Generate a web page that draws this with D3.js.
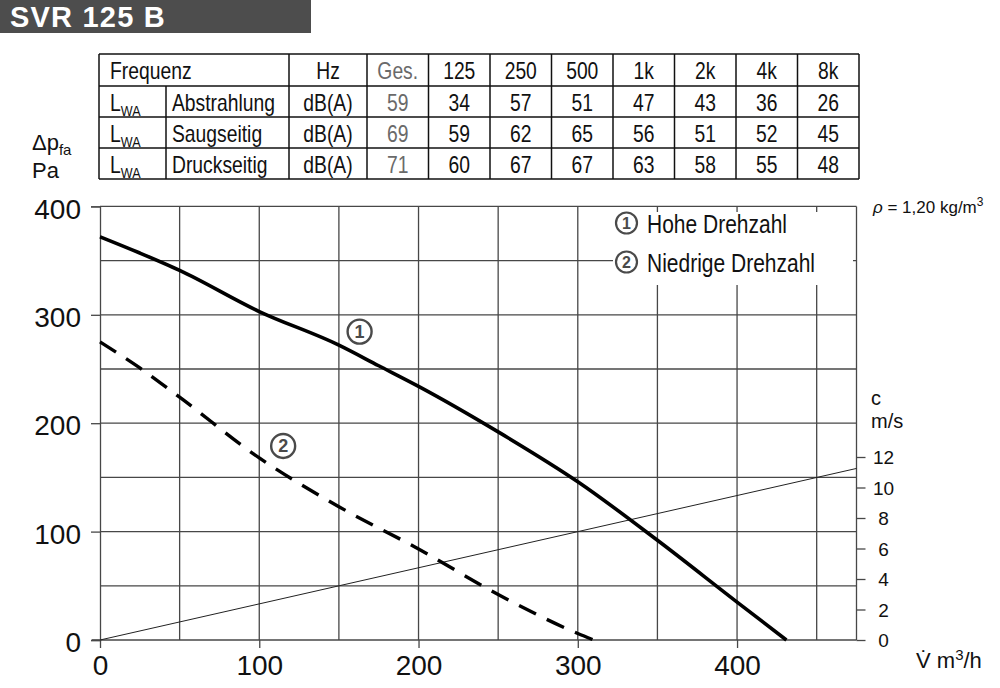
<!DOCTYPE html>
<html><head><meta charset="utf-8">
<script src="https://cdn.jsdelivr.net/npm/d3@7/dist/d3.min.js"></script>
<style>
html,body{margin:0;padding:0;background:#fff;}
svg{display:block;}
.sans{font-family:"Liberation Sans",Arial,Helvetica,sans-serif;}
</style>
</head><body>
<svg id="chart" width="1000" height="688"></svg>
<script>
// ---------- data ----------
const titleText = "SVR 125 B";
const freqLabels = ["Ges.", "125", "250", "500", "1k", "2k", "4k", "8k"];
const rowNames = ["Abstrahlung", "Saugseitig", "Druckseitig"];
const abstrahlung = [59, 34, 57, 51, 47, 43, 36, 26];
const saugseitig = [69, 59, 62, 65, 56, 51, 52, 45];
const druckseitig = [71, 60, 67, 67, 63, 58, 55, 48];

const hoheQ = [0, 25, 50, 100, 150, 175, 200, 250, 300, 350, 400, 431];
const hoheP = [372, 357, 341, 303, 272, 253, 234, 192, 146, 92, 35, 0];
const niedrigQ = [0, 25, 50, 100, 150, 200, 250, 300, 310];
const niedrigP = [275, 251, 224, 168, 123, 84, 42, 6, 0];
const velocityQ = [0, 475];
const velocityC = [0, 11.25];

const xTicks = [0, 100, 200, 300, 400];
const yTicks = [0, 100, 200, 300, 400];
const cTicks = [0, 2, 4, 6, 8, 10, 12];
const legendLabels = ["Hohe Drehzahl", "Niedrige Drehzahl"];

// ---------- setup ----------
const svg = d3.select("#chart");
const x = d3.scaleLinear().domain([0, 475]).range([100, 856.5]);
const y = d3.scaleLinear().domain([0, 400]).range([640, 206.4]);
const yc = d3.scaleLinear().domain([0, 12]).range([640, 457]);
const gridColor = "#474747";
const NARROW = 0.84;

// condensed text helper (no narrow font installed)
function ntext(parent, tx, ty, size, anchor, fill) {
  return parent.append("g").attr("transform", `translate(${tx},${ty}) scale(${NARROW},1)`)
    .append("text").attr("class", "sans").attr("font-size", size)
    .attr("text-anchor", anchor || "start").attr("fill", fill || "#111");
}

// Title bar
svg.append("rect").attr("x", 0).attr("y", 0).attr("width", 311).attr("height", 33).attr("fill", "#4d4d4d");
svg.append("text").attr("class", "sans").attr("x", 10).attr("y", 27)
  .attr("font-size", 29).attr("font-weight", "bold").attr("fill", "#fff")
  .attr("letter-spacing", 1.2).text(titleText);

// ---------- table ----------
const tbl = svg.append("g");
const tX0 = 99, tX1 = 859;
const rowY = [54, 86, 117, 148, 179];
const colX = [367, 428.5, 490, 551.5, 613, 674.5, 736, 797.5, 859];
const lineW = 1.5;
rowY.forEach(ry => tbl.append("line").attr("x1", tX0).attr("x2", tX1).attr("y1", ry).attr("y2", ry)
  .attr("stroke", "#111").attr("stroke-width", lineW));
[tX0, 289, ...colX].forEach(cx => tbl.append("line").attr("x1", cx).attr("x2", cx)
  .attr("y1", rowY[0]).attr("y2", rowY[4]).attr("stroke", "#111").attr("stroke-width", lineW));
tbl.append("line").attr("x1", 166).attr("x2", 166).attr("y1", rowY[1]).attr("y2", rowY[4])
  .attr("stroke", "#111").attr("stroke-width", lineW);

const fs = 23;
const baseOff = 25;
ntext(tbl, 110, rowY[0] + baseOff, fs).text("Frequenz");
ntext(tbl, 328, rowY[0] + baseOff, fs, "middle").text("Hz");
freqLabels.forEach((f, i) => {
  ntext(tbl, (colX[i] + colX[i + 1]) / 2, rowY[0] + baseOff, fs, "middle", i === 0 ? "#6a6a6a" : "#111").text(f);
});
const rowVals = [abstrahlung, saugseitig, druckseitig];
rowNames.forEach((name, r) => {
  const by = rowY[r + 1] + baseOff;
  const t = ntext(tbl, 110, by, fs);
  t.append("tspan").text("L");
  t.append("tspan").attr("font-size", 15).attr("dy", 5).text("WA");
  ntext(tbl, 172, by, fs).text(name);
  ntext(tbl, 328, by, fs, "middle").text("dB(A)");
  rowVals[r].forEach((v, i) => {
    ntext(tbl, (colX[i] + colX[i + 1]) / 2, by, fs, "middle", i === 0 ? "#6a6a6a" : "#111").text(v);
  });
});

// ---------- grid ----------
const grid = svg.append("g");
d3.range(50, 476, 50).forEach(q => grid.append("line").attr("x1", x(q)).attr("x2", x(q))
  .attr("y1", y(0)).attr("y2", y(400)).attr("stroke", gridColor).attr("stroke-width", 1.3));
d3.range(50, 401, 50).forEach(p => grid.append("line").attr("x1", x(0)).attr("x2", x(475))
  .attr("y1", y(p)).attr("y2", y(p)).attr("stroke", gridColor).attr("stroke-width", 1.3));
grid.append("line").attr("x1", x(475)).attr("x2", x(475)).attr("y1", y(0)).attr("y2", y(400))
  .attr("stroke", gridColor).attr("stroke-width", 1.3);

// left axis
const yAxis = d3.axisLeft(y).tickValues(yTicks).tickSize(9).tickPadding(10).tickFormat(d3.format("d"));
const gy = svg.append("g").attr("transform", `translate(${x(0)},0)`).call(yAxis);
gy.select(".domain").attr("stroke", gridColor).attr("stroke-width", 1.3);
gy.selectAll(".tick line").attr("stroke", gridColor).attr("stroke-width", 1.3);
gy.selectAll(".tick text").attr("class", "sans").attr("font-size", 28).attr("fill", "#111").attr("dy", "0.42em");

// bottom axis
const xAxis = d3.axisBottom(x).tickValues(xTicks).tickSize(8).tickPadding(10).tickFormat(d3.format("d"));
const gx = svg.append("g").attr("transform", `translate(0,${y(0)})`).call(xAxis);
gx.select(".domain").remove();
gx.append("line").attr("x1", 92).attr("x2", x(475)).attr("y1", 0).attr("y2", 0).attr("stroke", gridColor).attr("stroke-width", 1.3);
gx.selectAll(".tick line").attr("stroke", gridColor).attr("stroke-width", 1.3);
gx.selectAll(".tick text").attr("class", "sans").attr("font-size", 28).attr("fill", "#111").attr("dy", "0.6em");

// right velocity axis
const cAxis = d3.axisRight(yc).tickValues(cTicks).tickSize(9).tickPadding(7).tickFormat(d3.format("d"));
const gc = svg.append("g").attr("transform", `translate(${x(475)},0)`).call(cAxis);
gc.select(".domain").remove();
gc.selectAll(".tick line").attr("stroke", gridColor).attr("stroke-width", 1.3);
gc.selectAll(".tick text").attr("class", "sans").attr("font-size", 19).attr("fill", "#111")
  .attr("text-anchor", "middle").attr("x", 27).attr("dy", "0.36em");

// ---------- lines ----------
const velLine = d3.line().x((d, i) => x(velocityQ[i])).y(d => yc(d));
svg.append("path").attr("d", velLine(velocityC)).attr("fill", "none").attr("stroke", "#222").attr("stroke-width", 1);

const pLine = qs => d3.line().x((d, i) => x(qs[i])).y(d => y(d)).curve(d3.curveMonotoneX);
svg.append("path").attr("d", pLine(hoheQ)(hoheP)).attr("fill", "none").attr("stroke", "#000").attr("stroke-width", 3.6);
svg.append("path").attr("d", pLine(niedrigQ)(niedrigP)).attr("fill", "none").attr("stroke", "#000")
  .attr("stroke-width", 3.4).attr("stroke-dasharray", "19,12");

// curve labels
function circled(cx, cy, r, n, fsz, sw) {
  svg.append("circle").attr("cx", cx).attr("cy", cy).attr("r", r).attr("fill", "none").attr("stroke", "#4a4a4a").attr("stroke-width", sw);
  svg.append("text").attr("class", "sans").attr("x", cx).attr("y", cy).attr("dy", "0.36em").attr("text-anchor", "middle")
    .attr("font-size", fsz).attr("font-weight", "bold").attr("fill", "#4a4a4a").text(n);
}
circled(x(163), y(284.5), 12, "1", 18, 2.4);
circled(x(115), y(179), 12, "2", 18, 2.4);

// legend
svg.append("rect").attr("x", 613).attr("y", 212).attr("width", 240).attr("height", 73).attr("fill", "#fff");
circled(626.5, 223, 10.5, "1", 16, 2.2);
circled(626.5, 262, 10.5, "2", 16, 2.2);
legendLabels.forEach((l, i) => {
  ntext(svg, 647, 233 + i * 39, 25).text(l);
});

// ---------- axis titles ----------
const dp = svg.append("text").attr("class", "sans").attr("x", 32).attr("y", 150).attr("font-size", 22).attr("fill", "#111");
dp.append("tspan").text("Δp");
dp.append("tspan").attr("font-size", 15).attr("dy", 5).text("fa");
svg.append("text").attr("class", "sans").attr("x", 32).attr("y", 178).attr("font-size", 22).attr("fill", "#111").text("Pa");

svg.append("text").attr("class", "sans").attr("x", 871).attr("y", 405).attr("font-size", 20).attr("fill", "#111").text("c");
svg.append("text").attr("class", "sans").attr("x", 871).attr("y", 428).attr("font-size", 20).attr("fill", "#111").text("m/s");

const rho = svg.append("text").attr("class", "sans").attr("x", 873).attr("y", 213).attr("font-size", 17).attr("fill", "#111");
rho.append("tspan").attr("font-style", "italic").text("ρ");
rho.append("tspan").text(" = 1,20 kg/m");
rho.append("tspan").attr("font-size", 12).attr("dy", -7).text("3");

const vt = svg.append("text").attr("class", "sans").attr("x", 916).attr("y", 668).attr("font-size", 22).attr("fill", "#111");
vt.append("tspan").text("V̇ m");
vt.append("tspan").attr("font-size", 15).attr("dy", -8).text("3");
vt.append("tspan").attr("dy", 8).text("/h");
</script>
</body></html>
